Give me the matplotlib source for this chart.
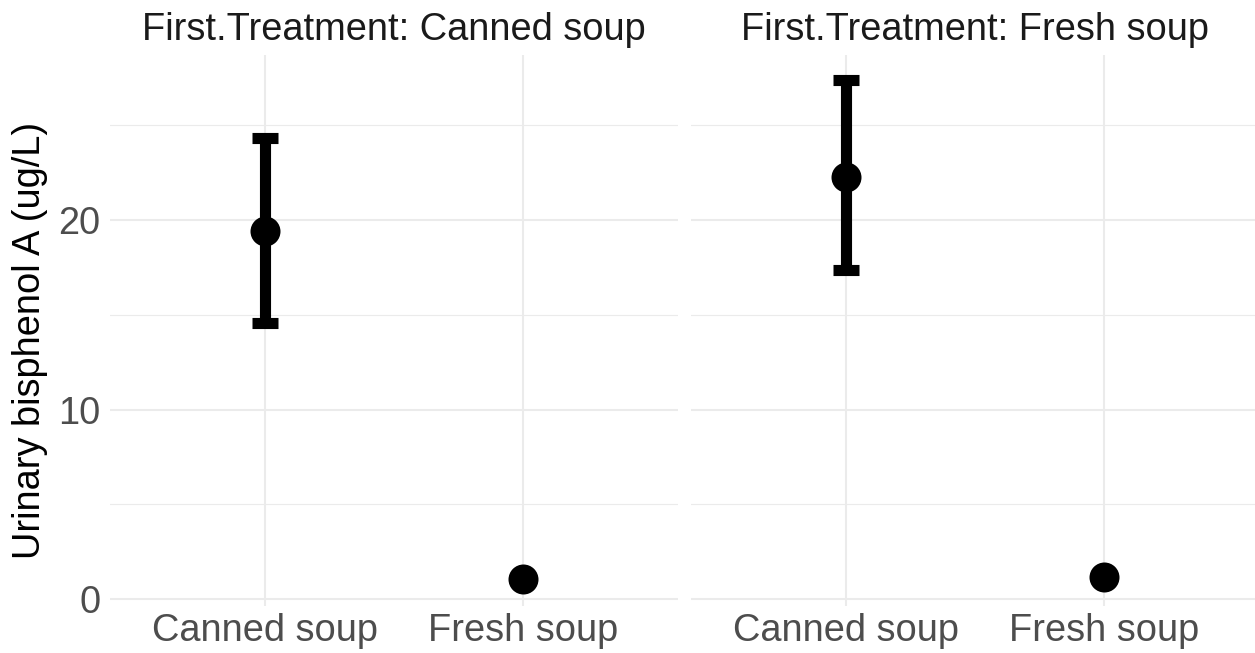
import matplotlib
matplotlib.use("Agg")
import matplotlib.pyplot as plt
import numpy as np

plt.rcParams['font.family'] = ['Liberation Sans', 'DejaVu Sans']

# facets = first treatment, x = soup condition
facets = ["Canned soup", "Fresh soup"]
conditions = ["Canned soup", "Fresh soup"]

# mean and 95% interval per facet (fresh soup has no visible bar)
mean_first_canned = [19.42, 1.06]
lower_first_canned = [14.56, np.nan]
upper_first_canned = [24.33, np.nan]

mean_first_fresh = [22.29, 1.16]
lower_first_fresh = [17.36, np.nan]
upper_first_fresh = [27.39, np.nan]

means = [mean_first_canned, mean_first_fresh]
lowers = [lower_first_canned, lower_first_fresh]
uppers = [upper_first_canned, upper_first_fresh]

W, H = 1255, 653
fig = plt.figure(figsize=(W / 100, H / 100), dpi=100)

FS = 27.4
grid_col = '#EBEBEB'
panel_left = [110, 691]
panel_w = 567.5
panel_top, panel_bot = 55, 606

for k, facet in enumerate(facets):
    ax = fig.add_axes([panel_left[k] / W, 1 - panel_bot / H, panel_w / W, (panel_bot - panel_top) / H])
    x = np.arange(len(conditions))
    for i in x:
        lo, hi = lowers[k][i], uppers[k][i]
        if not np.isnan(lo):
            ax.errorbar([i], [means[k][i]], yerr=[[means[k][i] - lo], [hi - means[k][i]]],
                        fmt='none', ecolor='black', elinewidth=8, capsize=9.4, capthick=8, zorder=3)
    ax.plot(x, means[k], 'o', color='black', markersize=21.6, zorder=4, markeredgewidth=0)

    ax.set_xlim(-0.6, 1.6)
    ax.set_ylim(-0.37, 28.72)
    ax.set_xticks(x)
    ax.set_xticklabels(conditions)
    ax.set_yticks([0, 10, 20])
    ax.set_yticks([5, 15, 25], minor=True)
    ax.grid(True, which='major', color=grid_col, linewidth=1.5)
    ax.grid(True, which='minor', axis='y', color=grid_col, linewidth=0.8)
    ax.set_axisbelow(True)
    for s in ax.spines.values():
        s.set_visible(False)
    ax.tick_params(which='both', length=0, labelsize=FS, labelcolor='#4D4D4D')
    ax.tick_params(axis='x', pad=5)
    ax.tick_params(axis='y', pad=7)
    if k > 0:
        ax.tick_params(axis='y', labelleft=False)
    # strip title, baseline placed like the facet strip
    cx = (panel_left[k] + panel_w / 2) / W
    fig.text(cx, 1 - 40 / H, "First.Treatment: " + facet, fontsize=FS, color='#1A1A1A',
             ha='center', va='baseline')

fig.text(30 / W, 1 - 340 / H, "Urinary bisphenol A (ug/L)",
         rotation=90, fontsize=FS, ha='center', va='center', color='black')

fig.savefig("out.png", dpi=100)
